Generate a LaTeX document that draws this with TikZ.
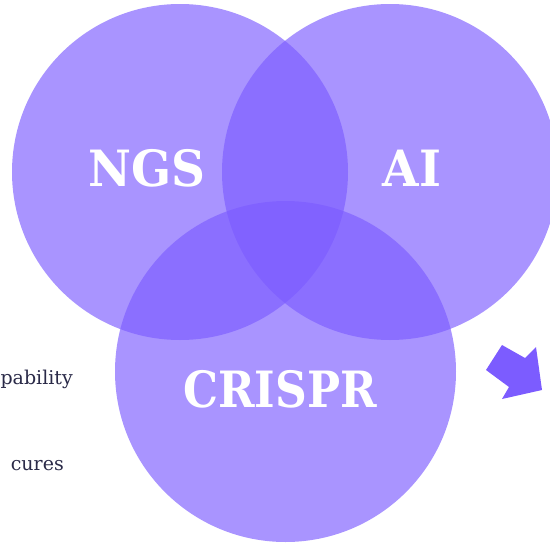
\documentclass[tikz,border=0pt]{standalone}
\usepackage{fontspec}
\setmainfont{DejaVu Serif}
\newfontfamily\slab[FakeStretch=0.94]{DejaVu Serif}
\newfontfamily\slabnarrow[FakeStretch=0.88]{DejaVu Serif}
\usepackage{tikz}
\usetikzlibrary{positioning}
\definecolor{venn}{HTML}{7C5CFF}
\definecolor{ink}{HTML}{2A2A48}

\begin{document}
\begin{tikzpicture}[
        x=1pt, y=-1pt,
        blob/.style={circle, fill=venn, fill opacity=0.66, inner sep=0pt, minimum size=336pt},
        lbl/.style={text=white, font=\slab\fontsize{50}{54}\selectfont\bfseries},
        note/.style={text=ink, font=\fontsize{19}{22}\selectfont, anchor=base east, inner sep=0pt}
    ]
        \useasboundingbox (0,0) rectangle (550,544);
        \clip (0,0) rectangle (550,544);

        \node[blob] (ngs) at (180,172) {};
        \node[blob] (ai) at (390,172) {};
        \node[blob, minimum size=341pt] (crispr) at (285.5,371.5) {};

        \node[lbl] (ngslbl) at (147,168) {NGS};
        \node[lbl] (ailbl) at (412,168) {AI};
        \node[lbl, font=\slabnarrow\fontsize{50}{54}\selectfont\bfseries] (crisprlbl) at (280,389) {CRISPR};

        \node[note] (cap) at (73,384) {pability};
        \node[note] (cure) at (64,470) {cures};

        % arrow to the right
        \fill[venn] (486,370) -- (502,345) -- (525,358) -- (536,347)
            -- (542,390) -- (502,399) -- (509,387) -- cycle;
    \end{tikzpicture}
\end{document}
